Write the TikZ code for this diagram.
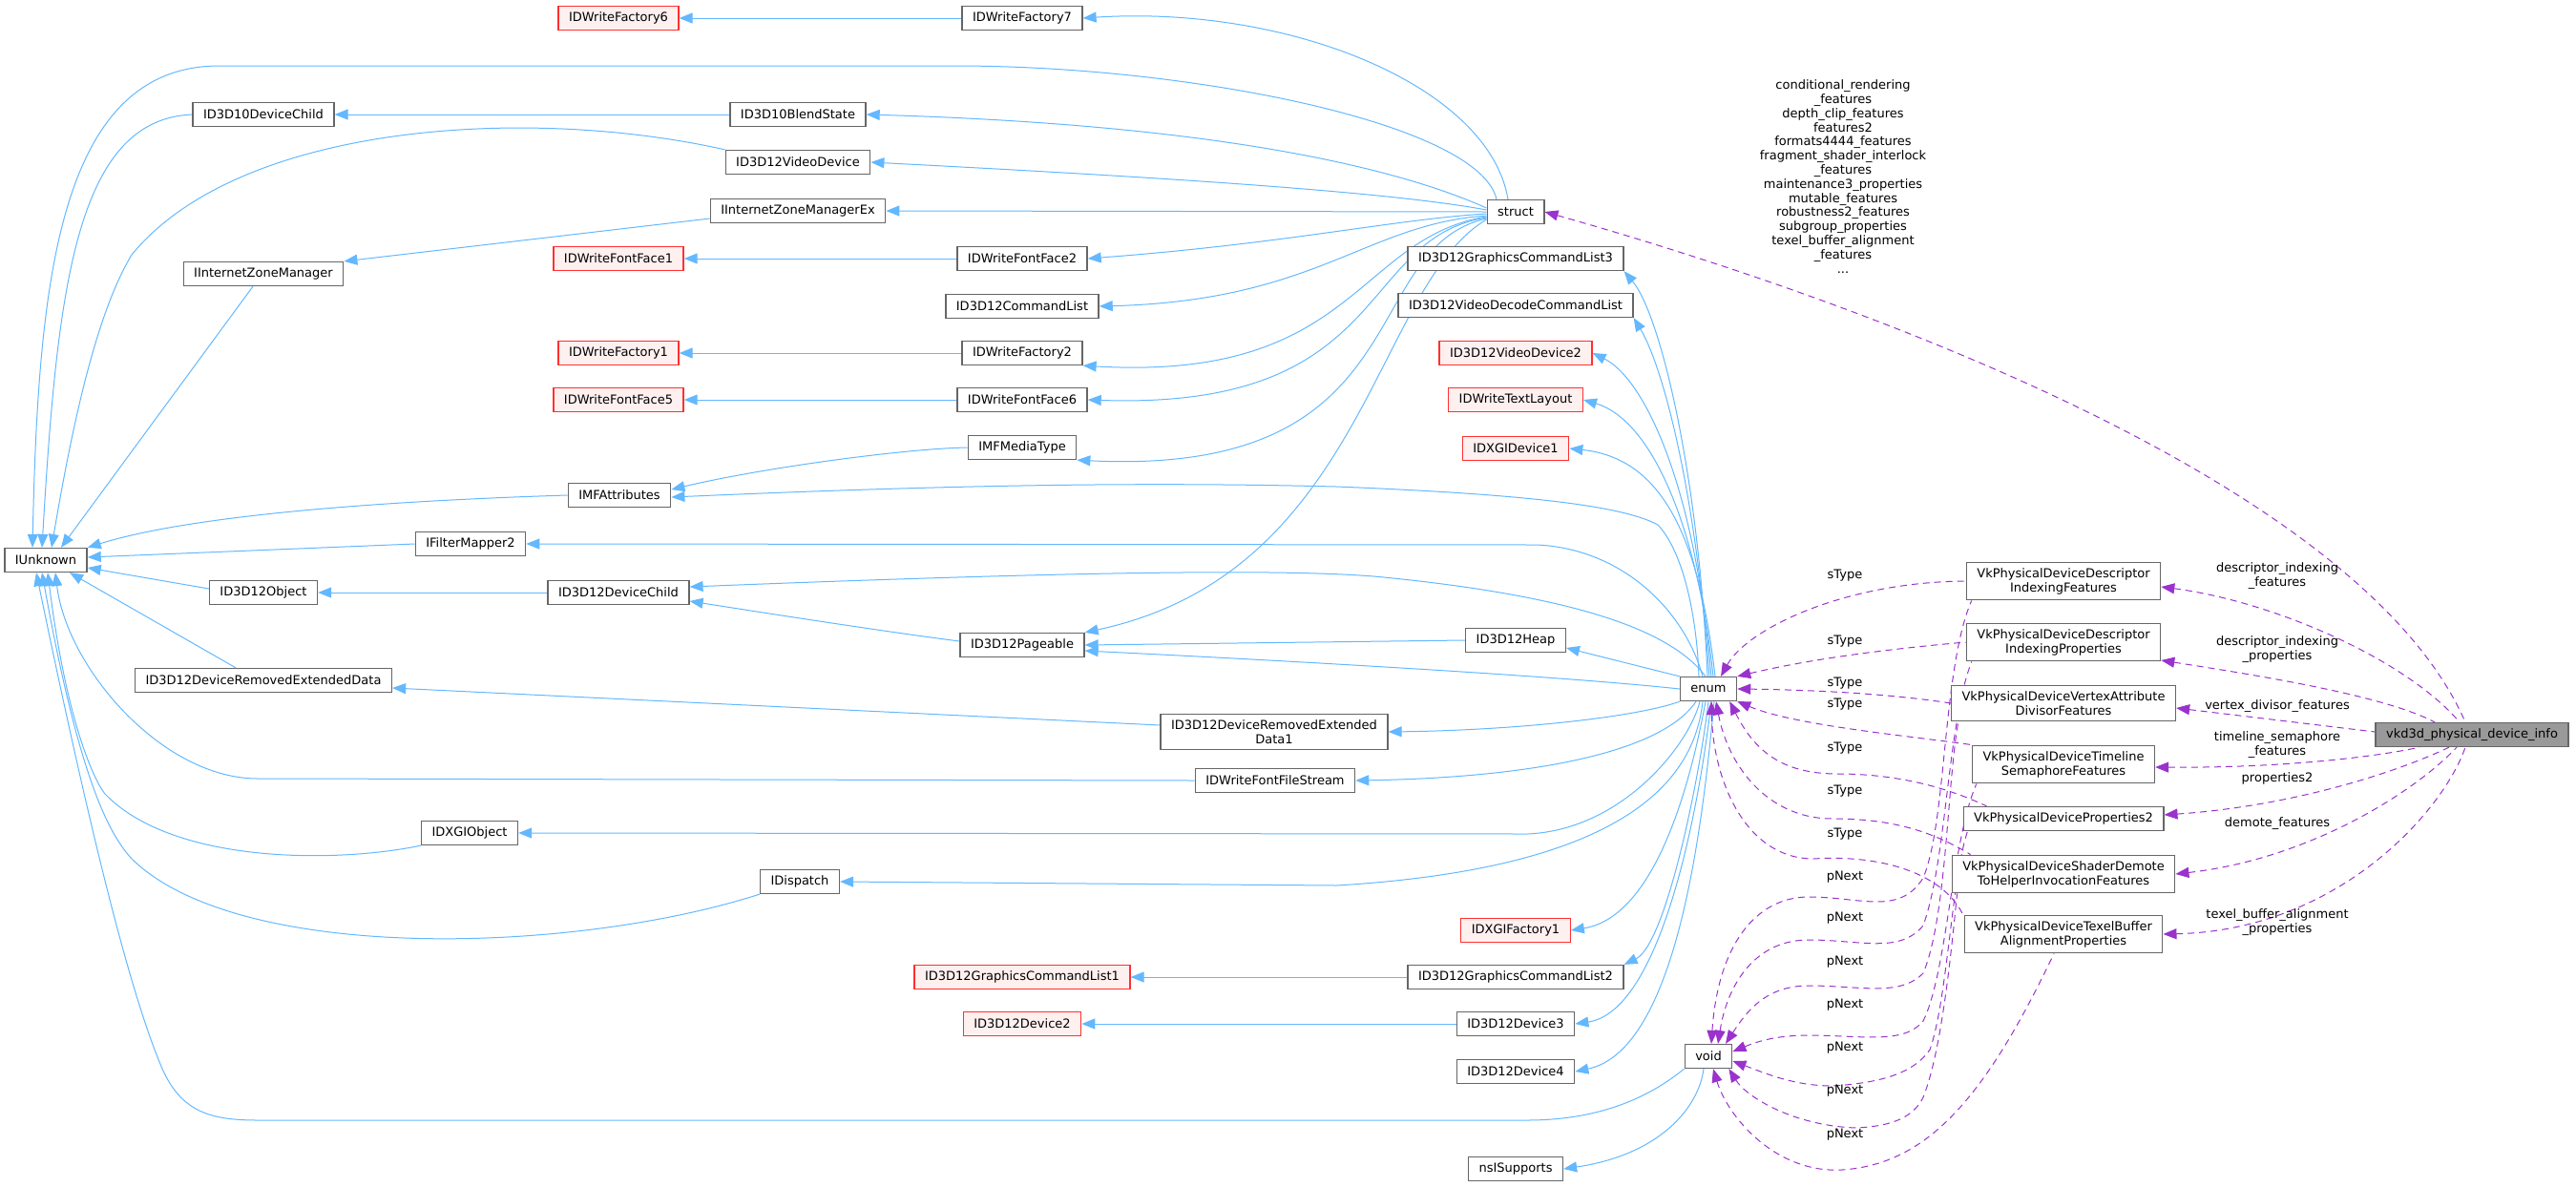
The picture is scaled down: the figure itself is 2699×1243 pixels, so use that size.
\documentclass[tikz,border=0pt]{standalone}
\usepackage{fontspec}
\setmainfont{DejaVu Sans}
\usetikzlibrary{arrows.meta}
\definecolor{eblue}{HTML}{63B8FF}
\definecolor{purp}{HTML}{9A32CD}
\definecolor{boxgray}{HTML}{666666}
\definecolor{redline}{HTML}{FF3030}
\definecolor{redfill}{HTML}{FFF0F0}
\definecolor{mainfill}{HTML}{999999}
\newcommand{\fnt}{\fontsize{13}{15}\selectfont}
\pgfdeclarelayer{bg}
\pgfsetlayers{bg,main}
\begin{document}
\begin{tikzpicture}[x=1pt,y=-1pt,
 box/.style={draw=boxgray, line width=1.3pt, fill=white, minimum height=25pt, inner xsep=11pt, inner ysep=6pt, align=center, font=\fnt},
 redb/.style={box, draw=redline, fill=redfill},
 mainb/.style={box, fill=mainfill},
 inh/.style={draw=eblue, line width=1pt, {Triangle[length=14pt,width=11pt]}-},
 col/.style={draw=purp, line width=1pt, dash pattern=on 7pt off 5pt, {Triangle[length=14pt,width=11pt]}-},
 lbl/.style={font=\fnt, align=center, inner sep=0pt, text=black}]
\useasboundingbox (0,0) rectangle (2699,1243);
% nodes
\node[box] (IUnknown) at (48,587) {IUnknown};
\node[box] (d10dc) at (276,120) {ID3D10DeviceChild};
\node[box] (izm) at (276,287) {IInternetZoneManager};
\node[box] (d12obj) at (276,621) {ID3D12Object};
\node[box] (dred) at (276,713) {ID3D12DeviceRemovedExtendedData};
\node[redb] (dwf6) at (648,19) {IDWriteFactory6};
\node[redb] (dwff1) at (648,271) {IDWriteFontFace1};
\node[redb] (dwf1) at (648,370) {IDWriteFactory1};
\node[redb] (dwff5) at (648,419) {IDWriteFontFace5};
\node[box] (mfattr) at (649,519) {IMFAttributes};
\node[box] (fm2) at (493,570) {IFilterMapper2};
\node[box] (devchild) at (648,621) {ID3D12DeviceChild};
\node[box] (dxgiobj) at (492,873) {IDXGIObject};
\node[box] (d10bs) at (836,120) {ID3D10BlendState};
\node[box] (d12vd) at (836,170) {ID3D12VideoDevice};
\node[box] (izmex) at (836,221) {IInternetZoneManagerEx};
\node[box] (disp) at (838,924) {IDispatch};
\node[box] (dwf7) at (1071,19) {IDWriteFactory7};
\node[box] (dwff2) at (1071,271) {IDWriteFontFace2};
\node[box] (cmdlist) at (1071,321) {ID3D12CommandList};
\node[box] (dwf2) at (1071,370) {IDWriteFactory2};
\node[box] (dwff6) at (1071,419) {IDWriteFontFace6};
\node[box] (mfmedia) at (1071,469) {IMFMediaType};
\node[box] (pageable) at (1071,676) {ID3D12Pageable};
\node[redb] (gcl1) at (1071,1024) {ID3D12GraphicsCommandList1};
\node[redb] (dev2) at (1071,1073) {ID3D12Device2};
\node[box] (dred1) at (1335,767) {ID3D12DeviceRemovedExtended\\Data1};
\node[box] (ffs) at (1336,818) {IDWriteFontFileStream};
\node[box] (struct) at (1588,222) {struct};
\node[box] (gcl3) at (1588,271) {ID3D12GraphicsCommandList3};
\node[box] (vdcl) at (1588,320) {ID3D12VideoDecodeCommandList};
\node[redb] (vd2) at (1588,370) {ID3D12VideoDevice2};
\node[redb] (tl) at (1588,419) {IDWriteTextLayout};
\node[redb] (dxgidev1) at (1588,470) {IDXGIDevice1};
\node[box] (heap) at (1588,671) {ID3D12Heap};
\node[redb] (dxgif1) at (1588,975) {IDXGIFactory1};
\node[box] (gcl2) at (1588,1024) {ID3D12GraphicsCommandList2};
\node[box] (dev3) at (1588,1073) {ID3D12Device3};
\node[box] (dev4) at (1588,1123) {ID3D12Device4};
\node[box] (nss) at (1588,1225) {nsISupports};
\node[box] (enum) at (1790,722) {enum};
\node[box] (void) at (1790,1107) {void};
\node[box] (vkdif) at (2162,609) {VkPhysicalDeviceDescriptor\\IndexingFeatures};
\node[box] (vkdip) at (2162,673) {VkPhysicalDeviceDescriptor\\IndexingProperties};
\node[box] (vkvad) at (2162,737) {VkPhysicalDeviceVertexAttribute\\DivisorFeatures};
\node[box] (vktsf) at (2162,801) {VkPhysicalDeviceTimeline\\SemaphoreFeatures};
\node[box] (vkp2) at (2162,858) {VkPhysicalDeviceProperties2};
\node[box] (vksd) at (2162,916) {VkPhysicalDeviceShaderDemote\\ToHelperInvocationFeatures};
\node[box] (vktb) at (2162,979) {VkPhysicalDeviceTexelBuffer\\AlignmentProperties};
\node[mainb] (vkd3d) at (2590,770) {vkd3d\_physical\_device\_info};
\begin{pgfonlayer}{bg}
% IUnknown edges
\draw[inh] ([xshift=-14pt]IUnknown.north) .. controls (40,300) and (60,69) .. (230,69) -- (1000,69) .. controls (1250,69) and (1550,130) .. ([xshift=-20pt]struct.north);
\draw[inh] ([xshift=-4pt]IUnknown.north) .. controls (60,300) and (80,125) .. (d10dc.west);
\draw[inh] ([xshift=6pt]IUnknown.north) .. controls (75,450) and (100,330) .. (138,267) .. controls (250,130) and (550,110) .. (d12vd.north west);
\draw[inh] ([xshift=16pt]IUnknown.north) -- ([xshift=-11pt]izm.south);
\draw[inh] (IUnknown.north east) .. controls (200,540) and (400,525) .. (mfattr.west);
\draw[inh] ([yshift=3pt]IUnknown.east) -- (fm2.west);
\draw[inh] ([yshift=-8pt]IUnknown.east) -- ([yshift=4pt]d12obj.west);
\draw[inh] ([xshift=25pt]IUnknown.south) -- ([xshift=-29pt]dred.north);
\draw[inh] ([xshift=10pt]IUnknown.south) .. controls (70,700) and (170,816) .. (270,816) -- (ffs.west);
\draw[inh] ([xshift=2pt]IUnknown.south) .. controls (70,760) and (100,820) .. (110,832) .. controls (180,905) and (350,905) .. (dxgiobj.south west);
\draw[inh] ([xshift=-4pt]IUnknown.south) .. controls (80,800) and (110,870) .. (138,900) .. controls (250,1010) and (600,1000) .. (disp.south west);
\draw[inh] ([xshift=-10pt]IUnknown.south) .. controls (100,900) and (140,1050) .. (170,1120) .. controls (190,1165) and (220,1174) .. (270,1174) -- (1600,1174) .. controls (1690,1174) and (1740,1140) .. (void.south west);
% simple horizontals
\draw[inh] (d10dc.east) -- (d10bs.west);
\draw[inh] (dwf6.east) -- (dwf7.west);
\draw[inh] (dwff1.east) -- (dwff2.west);
\draw[inh] (dwf1.east) -- (dwf2.west);
\draw[inh] (dwff5.east) -- (dwff6.west);
\draw[inh] (d12obj.east) -- (devchild.west);
\draw[inh] (gcl1.east) -- (gcl2.west);
\draw[inh] (dev2.east) -- (dev3.west);
\draw[inh] (pageable.east) -- (heap.west);
\draw[inh] (izm.north east) -- ([yshift=-8pt]izmex.west);
\draw[inh] ([yshift=6pt]mfattr.east) .. controls (800,490) and (950,470) .. (mfmedia.west);
\draw[inh] ([yshift=-9pt]devchild.east) .. controls (850,650) and (950,665) .. ([yshift=4pt]pageable.west);
\draw[inh] ([yshift=-8pt]dred.east) -- ([yshift=7pt]dred1.west);
% struct children
\draw[inh] (dwf7.east) .. controls (1350,5) and (1560,90) .. ([xshift=-8pt]struct.north);
\draw[inh] (d10bs.east) .. controls (1250,130) and (1450,170) .. ([yshift=4pt]struct.west);
\draw[inh] (d12vd.east) .. controls (1200,185) and (1450,200) .. ([yshift=2pt]struct.west);
\draw[inh] (izmex.east) -- (struct.west);
\draw[inh] (dwff2.east) .. controls (1350,255) and (1460,230) .. ([yshift=-2pt]struct.west);
\draw[inh] (cmdlist.east) .. controls (1380,315) and (1430,235) .. ([yshift=-4pt]struct.west);
\draw[inh] (dwf2.south east) .. controls (1420,400) and (1420,250) .. ([yshift=-5pt]struct.west);
\draw[inh] (dwff6.east) .. controls (1460,430) and (1420,250) .. ([yshift=-6pt]struct.west);
\draw[inh] (mfmedia.south east) .. controls (1490,500) and (1420,260) .. ([yshift=-7pt]struct.west);
\draw[inh] (pageable.north east) .. controls (1430,600) and (1440,300) .. ([yshift=-8pt]struct.west);
% enum children
\draw[inh] ([yshift=-2pt]mfattr.east) .. controls (1000,508) and (1200,505) .. (1400,510) .. controls (1600,518) and (1700,530) .. (1737,550) .. controls (1765,580) and (1778,650) .. ([xshift=-10pt]enum.north);
\draw[inh] (fm2.east) -- (1610,571) .. controls (1700,575) and (1765,640) .. ([xshift=-6pt]enum.north);
\draw[inh] ([yshift=6pt]devchild.east) .. controls (1100,600) and (1350,595) .. (1450,605) .. controls (1650,625) and (1750,660) .. ([xshift=-3pt]enum.north);
\draw[inh] ([yshift=-6pt]pageable.east) .. controls (1400,695) and (1650,710) .. (enum.west);
\draw[inh] ([yshift=-8pt]heap.east) -- (enum.north west);
\draw[inh] (dred1.east) .. controls (1600,765) and (1720,750) .. (enum.south west);
\draw[inh] (ffs.east) .. controls (1600,815) and (1740,790) .. ([xshift=-13pt]enum.south);
\draw[inh] (dxgiobj.east) -- (1600,874) .. controls (1700,870) and (1770,780) .. ([xshift=-9pt]enum.south);
\draw[inh] (disp.east) -- (1400,928) .. controls (1700,910) and (1775,820) .. ([xshift=-6pt]enum.south);
\draw[inh] (gcl3.south east) .. controls (1740,330) and (1780,500) .. ([xshift=-1pt]enum.north);
\draw[inh] (vdcl.south east) .. controls (1740,380) and (1775,500) .. ([xshift=1pt]enum.north);
\draw[inh] (vd2.east) .. controls (1720,395) and (1775,500) .. ([xshift=3pt]enum.north);
\draw[inh] (tl.east) .. controls (1730,440) and (1778,550) .. ([xshift=5pt]enum.north);
\draw[inh] (dxgidev1.east) .. controls (1740,480) and (1780,560) .. ([xshift=7pt]enum.north);
\draw[inh] (dxgif1.east) .. controls (1740,960) and (1775,800) .. ([xshift=-3pt]enum.south);
\draw[inh] (gcl2.north east) .. controls (1745,990) and (1780,820) .. (enum.south);
\draw[inh] (dev3.east) .. controls (1740,1060) and (1780,850) .. ([xshift=3pt]enum.south);
\draw[inh] (dev4.east) .. controls (1760,1100) and (1785,850) .. ([xshift=6pt]enum.south);
\draw[inh] (nss.east) .. controls (1740,1210) and (1780,1160) .. ([xshift=-5pt]void.south);
% purple: vkd3d
\draw[col] (struct.east) .. controls (2000,330) and (2480,520) .. ([xshift=-7pt]vkd3d.north);
\draw[col] ([yshift=-6pt]vkdif.east) .. controls (2380,630) and (2520,690) .. ([xshift=-13pt]vkd3d.north);
\draw[col] ([yshift=-19pt]vkdip.east) .. controls (2380,710) and (2500,730) .. ([xshift=-39pt]vkd3d.north);
\draw[col] ([yshift=-5pt]vkvad.east) -- ([yshift=3pt]vkd3d.west);
\draw[col] ([yshift=-3pt]vktsf.east) .. controls (2380,805) and (2480,795) .. ([xshift=-55pt]vkd3d.south);
\draw[col] ([yshift=4pt]vkp2.east) .. controls (2400,845) and (2510,810) .. ([xshift=-24pt]vkd3d.south);
\draw[col] (vksd.east) .. controls (2420,900) and (2530,830) .. ([xshift=-16pt]vkd3d.south);
\draw[col] (vktb.east) .. controls (2450,975) and (2560,850) .. ([xshift=-7pt]vkd3d.south);
% sType
\draw[col] ([xshift=13pt]enum.north) .. controls (1830,660) and (1930,610) .. (vkdif.west);
\draw[col] (enum.north east) .. controls (1900,690) and (1980,680) .. (vkdip.west);
\draw[col] (enum.east) .. controls (1900,723) and (1980,727) .. (vkvad.west);
\draw[col] (enum.south east) .. controls (1880,760) and (1990,770) .. (vktsf.north west);
\draw[col] ([xshift=-8pt]enum.south east) .. controls (1840,790) and (1870,812) .. (1930,811) .. controls (2000,812) and (2050,830) .. ([xshift=25pt]vkp2.north west);
\draw[col] ([xshift=8pt]enum.south) .. controls (1810,800) and (1850,858) .. (1920,858) .. controls (1990,858) and (2030,875) .. ([xshift=20pt]vksd.north west);
\draw[col] ([xshift=3pt]enum.south) .. controls (1795,820) and (1830,900) .. (1900,900) .. controls (1980,895) and (2040,920) .. ([yshift=-2pt]vktb.north west);
% pNext
\draw[col] ([xshift=3pt]void.north) .. controls (1800,990) and (1840,940) .. (1895,940) .. controls (1950,940) and (1990,960) .. (2015,920) .. controls (2040,860) and (2035,700) .. ([xshift=6pt]vkdif.south west);
\draw[col] ([xshift=10pt]void.north) .. controls (1810,1030) and (1840,985) .. (1895,985) .. controls (1950,985) and (1990,1000) .. (2015,970) .. controls (2040,900) and (2040,760) .. ([xshift=6pt]vkdip.south west);
\draw[col] ([xshift=18pt]void.north) .. controls (1830,1060) and (1850,1033) .. (1895,1033) .. controls (1950,1033) and (1990,1045) .. (2015,1020) .. controls (2040,960) and (2040,820) .. ([xshift=8pt]vkvad.south west);
\draw[col] ([yshift=5pt]void.east) .. controls (1840,1092) and (1860,1085) .. (1895,1085) .. controls (1950,1085) and (1995,1095) .. (2015,1070) .. controls (2040,1020) and (2045,880) .. ([xshift=5pt]vktsf.south west);
\draw[col] ([yshift=-5pt]void.east) .. controls (1850,1125) and (1880,1138) .. (1920,1138) .. controls (1970,1135) and (2005,1125) .. (2022,1100) .. controls (2040,1050) and (2045,920) .. ([xshift=5pt]vkp2.south west);
\draw[col] ([xshift=-4pt]void.south east) .. controls (1830,1150) and (1880,1180) .. (1945,1182) .. controls (1985,1180) and (2005,1170) .. (2015,1150) .. controls (2035,1100) and (2045,990) .. ([xshift=6pt]vksd.south west);
\draw[col] ([xshift=5pt]void.south) .. controls (1810,1170) and (1860,1230) .. (1930,1226) .. controls (2020,1220) and (2080,1150) .. ([xshift=-10pt]vktb.south);
\end{pgfonlayer}
% labels
\node[lbl, font=\fontsize{13}{14.8}\selectfont] at (1931,185) {conditional\_rendering\\\_features\\depth\_clip\_features\\features2\\formats4444\_features\\fragment\_shader\_interlock\\\_features\\maintenance3\_properties\\mutable\_features\\robustness2\_features\\subgroup\_properties\\texel\_buffer\_alignment\\\_features\\...};
\node[lbl] at (2386,604) {descriptor\_indexing\\\_features};
\node[lbl] at (2386,681) {descriptor\_indexing\\\_properties};
\node[lbl] at (2386,740) {vertex\_divisor\_features};
\node[lbl] at (2386,781) {timeline\_semaphore\\\_features};
\node[lbl] at (2386,816) {properties2};
\node[lbl] at (2386,863) {demote\_features};
\node[lbl] at (2386,967) {texel\_buffer\_alignment\\\_properties};
\foreach \yy in {603,672,716,738,784,829,874} \node[lbl] at (1933,\yy) {sType};
\foreach \yy in {919,962,1008,1053,1098,1143,1189} \node[lbl] at (1933,\yy) {pNext};
\end{tikzpicture}
\end{document}
